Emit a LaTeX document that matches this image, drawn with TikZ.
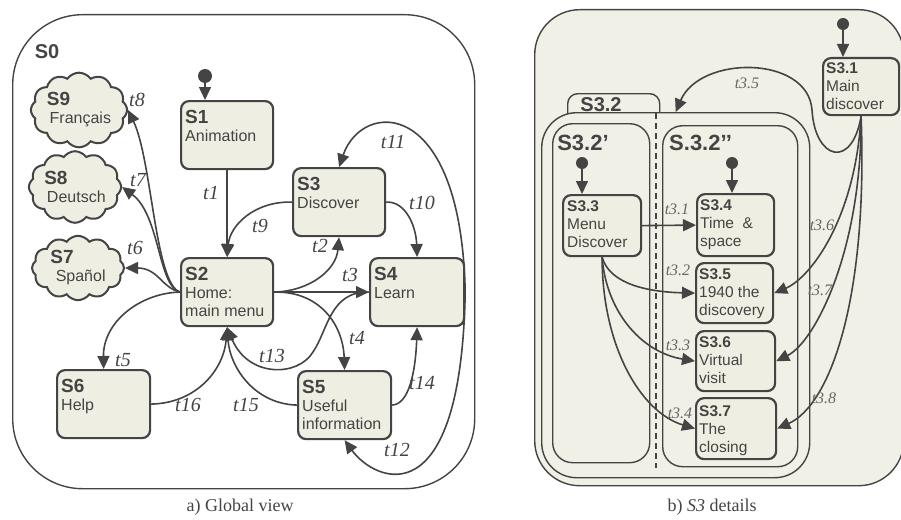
\documentclass[tikz,border=0pt]{standalone}
\usepackage{fontspec}
\setmainfont{Liberation Serif}
\setsansfont{Liberation Sans}
\usetikzlibrary{arrows.meta,shapes.symbols}

\definecolor{linegray}{HTML}{444444}
\definecolor{statefill}{HTML}{EEEEE2}
\definecolor{panelfill}{HTML}{F0F0E6}
\definecolor{labelgray}{HTML}{666666}

\newcommand{\sttl}[1]{{\fontsize{19}{20}\selectfont\bfseries #1}}
\newcommand{\sttr}[1]{{\fontsize{15.5}{17}\selectfont\bfseries #1}}

\tikzset{
	frame/.style={draw=linegray, line width=1.4pt, anchor=north west, inner sep=0pt},
	state/.style={draw=linegray, fill=statefill, line width=2.2pt, rounded corners=8pt, anchor=north west, inner sep=0pt},
	stxt/.style={anchor=north west, align=left, inner sep=0pt, text=linegray, font=\sffamily\fontsize{16}{18}\selectfont},
	rtxt/.style={anchor=north west, align=left, inner sep=0pt, text=linegray, font=\sffamily\fontsize{15.5}{18}\selectfont},
	cloudstate/.style={cloud, cloud puffs=12, cloud puff arc=110, aspect=1.4, draw=linegray, fill=statefill, line width=2pt, minimum width=92pt, minimum height=64pt, inner sep=0pt, align=left, text=linegray, font=\sffamily\fontsize{16}{18}\selectfont},
	initdot/.style={circle, fill=linegray, inner sep=0pt, minimum size=#1},
	trans/.style={draw=linegray, line width=1.6pt, -{Triangle[length=13pt,width=12pt]}},
	tlbl/.style={text=linegray, font=\itshape\fontsize{20}{20}\selectfont, inner sep=0pt},
	rlbl/.style={text=labelgray, font=\itshape\fontsize{16}{16}\selectfont, inner sep=0pt},
	frlbl/.style={text=linegray, font=\sffamily\bfseries\fontsize{#1}{#1}\selectfont, inner sep=0pt}
}

\begin{document}
\begin{tikzpicture}[x=1pt,y=-1pt]

	\useasboundingbox (0,0) rectangle (901,519);

	% ---------- a) global view ----------
	\node[frame, minimum width=462pt, minimum height=474pt, rounded corners=70pt] (s0) at (12,14) {};
	\node[frlbl=20] (s0lbl) at (47,52) {S0};

	% states
	\node[state, minimum width=92pt, minimum height=68pt] (s1) at (180,100) {};
	\node[state, minimum width=92pt, minimum height=68pt] (s2) at (180,257) {};
	\node[state, minimum width=92pt, minimum height=68pt] (s3) at (292,167) {};
	\node[state, minimum width=94pt, minimum height=68pt] (s4) at (369,257) {};
	\node[state, minimum width=93pt, minimum height=68pt] (s5) at (297,370) {};
	\node[state, minimum width=93pt, minimum height=68pt] (s6) at (56,369) {};

	\node[stxt] (s1txt) at (185,110) {\sttl{S1}\\Animation};
	\node[stxt] (s2txt) at (185,267) {\sttl{S2}\\Home:\\main menu};
	\node[stxt] (s3txt) at (297,177) {\sttl{S3}\\Discover};
	\node[stxt] (s4txt) at (374,267) {\sttl{S4}\\Learn};
	\node[stxt] (s5txt) at (302,380) {\sttl{S5}\\Useful\\information};
	\node[stxt] (s6txt) at (61,379) {\sttl{S6}\\Help};

	% languages
	\node[cloudstate] (s9) at (79,110) {\sttl{S9}\\\,Français};
	\node[cloudstate] (s8) at (75,187) {\sttl{S8}\\\,Deutsch};
	\node[cloudstate] (s7) at (78,268) {\sttl{S7}\\\,\,Spañol};

	% initial state
	\node[initdot=14pt] (i1) at (205,76) {};
	\draw[trans] (i1) -- (i1 |- s1.north);

	% transitions
	\draw[trans] (s1.south) -- (s2.north);
	\draw[trans] (s3.west) .. controls (255,201) and (230,225) .. (s2.north);
	\draw[trans] (s2.east) .. controls (310,291) and (336,270) .. (s3.south);
	\draw[trans] (s2.east) -- (s4.west);
	\draw[trans] (s2.east) .. controls (320,291) and (343,325) .. (s5.north);
	\draw[trans] (s4.west) .. controls (330,291) and (328,330) .. (313,352) .. controls (298,377) and (248,378) .. (s2.south);
	\draw[trans] (s2.west) .. controls (140,293) and (103,322) .. (s6.north);
	\draw[trans] (s6.east) .. controls (198,403) and (224,368) .. (s2.south);
	\draw[trans] (s5.west) .. controls (255,404) and (230,368) .. (s2.south);
	\draw[trans] (s5.east) .. controls (412,404) and (416,360) .. (s4.south);
	\draw[trans] (s3.east) .. controls (405,201) and (416,225) .. (s4.north);
	\draw[trans] (s4.east) .. controls (461,95) and (362,100) .. (s3.north);
	\draw[trans] (s4.east) .. controls (461,520) and (375,482) .. (s5.south);
	\draw[trans] (s2.west) .. controls (162,288) and (158,268) .. (s7.east);
	\draw[trans] (s2.west) .. controls (158,286) and (160,215) .. (s8.east);
	\draw[trans] (s2.west) .. controls (155,284) and (152,160) .. (s9.east);

	% transition labels
	\node[tlbl] (t1) at (211,193) {t1};
	\node[tlbl] (t2) at (320,246) {t2};
	\node[tlbl] (t3) at (350,275) {t3};
	\node[tlbl] (t4) at (357,338) {t4};
	\node[tlbl] (t5) at (123,360) {t5};
	\node[tlbl] (t6) at (135,248) {t6};
	\node[tlbl] (t7) at (138,180) {t7};
	\node[tlbl] (t8) at (137,100) {t8};
	\node[tlbl] (t9) at (260,226) {t9};
	\node[tlbl] (t10) at (422,203) {t10};
	\node[tlbl] (t11) at (393,142) {t11};
	\node[tlbl] (t12) at (397,450) {t12};
	\node[tlbl] (t13) at (272,356) {t13};
	\node[tlbl] (t14) at (422,383) {t14};
	\node[tlbl] (t15) at (246,405) {t15};
	\node[tlbl] (t16) at (188,405) {t16};

	\node[font=\fontsize{18}{18}\selectfont, text=linegray] (capa) at (240,507) {a) Global view};

	% ---------- b) S3 details ----------
	\node[frame, fill=panelfill, minimum width=369pt, minimum height=476pt, rounded corners=45pt] (s3p) at (534,9) {};

	\node[frame, fill=panelfill, minimum width=92pt, minimum height=40pt, rounded corners=10pt] (s32tab) at (567,93) {};
	\node[frame, fill=panelfill, minimum width=268pt, minimum height=365pt, rounded corners=35pt] (s32) at (541,112) {};
	\node[frame, minimum width=97pt, minimum height=339pt, rounded corners=20pt] (s32a) at (552,123) {};
	\node[frame, minimum width=135pt, minimum height=341pt, rounded corners=20pt] (s32b) at (662,125) {};
	\draw[linegray, line width=1.4pt, dash pattern=on 6pt off 4pt] (656,113) -- (656,468);

	\node[frlbl=20, anchor=base] (s32lbl) at (601,111) {S3.2};
	\node[frlbl=22] (s32albl) at (583,143) {S3.2’};
	\node[frlbl=22, anchor=west] (s32blbl) at (669,143) {S.3.2’’};

	% states
	\node[state, minimum width=76pt, minimum height=57pt] (s31) at (822,57) {};
	\node[state, minimum width=78pt, minimum height=61pt] (s33) at (562,194) {};
	\node[state, minimum width=77pt, minimum height=62pt] (s34) at (696,193) {};
	\node[state, minimum width=77pt, minimum height=60pt] (s35) at (695,262) {};
	\node[state, minimum width=79pt, minimum height=60pt] (s36) at (695,330) {};
	\node[state, minimum width=80pt, minimum height=61pt] (s37) at (695,397) {};

	\node[rtxt] (s31txt) at (826,62) {\sttr{S3.1}\\Main\\discover};
	\node[rtxt] (s33txt) at (567,200) {\sttr{S3.3}\\Menu\\Discover};
	\node[rtxt] (s34txt) at (700,199) {\sttr{S3.4}\\Time~~\&\\space};
	\node[rtxt] (s35txt) at (699,268) {\sttr{S3.5}\\1940 the\\discovery};
	\node[rtxt] (s36txt) at (699,336) {\sttr{S3.6}\\Virtual\\visit};
	\node[rtxt] (s37txt) at (699,405) {\sttr{S3.7}\\The\\closing};

	% initial states
	\node[initdot=12pt] (i31) at (843,24) {};
	\node[initdot=12pt] (i33) at (582,163) {};
	\node[initdot=12pt] (i34) at (732,163) {};
	\draw[trans] (i31) -- (i31 |- s31.north);
	\draw[trans] (i33) -- (i33 |- s33.north);
	\draw[trans] (i34) -- (i34 |- s34.north);

	% transitions
	\draw[trans] (s33.east) -- (s34.west);
	\draw[trans] (s33.south) .. controls (610,285) and (650,292) .. (s35.west);
	\draw[trans] (s33.south) .. controls (606,310) and (640,352) .. (s36.west);
	\draw[trans] (s33.south) .. controls (602,345) and (640,412) .. (s37.west);
	\draw[trans] (s31.south) .. controls (852,170) and (815,160) .. (812,110) .. controls (808,55) and (700,55) .. (s32.north);
	\draw[trans] (s31.south) .. controls (855,220) and (810,278) .. (s35.east);
	\draw[trans] (s31.south) .. controls (862,250) and (815,342) .. (s36.east);
	\draw[trans] (s31.south) .. controls (868,300) and (830,405) .. (s37.east);

	% transition labels
	\node[rlbl] (t31) at (677,209) {t3.1};
	\node[rlbl] (t32) at (678,270) {t3.2};
	\node[rlbl] (t33) at (678,345) {t3.3};
	\node[rlbl] (t34) at (680,413) {t3.4};
	\node[rlbl] (t35) at (747,83) {t3.5};
	\node[rlbl] (t36) at (822,225) {t3.6};
	\node[rlbl] (t37) at (820,290) {t3.7};
	\node[rlbl] (t38) at (824,398) {t3.8};

	\node[font=\fontsize{18}{18}\selectfont, text=linegray] (capb) at (712,507) {b) \textit{S3} details};

\end{tikzpicture}
\end{document}
